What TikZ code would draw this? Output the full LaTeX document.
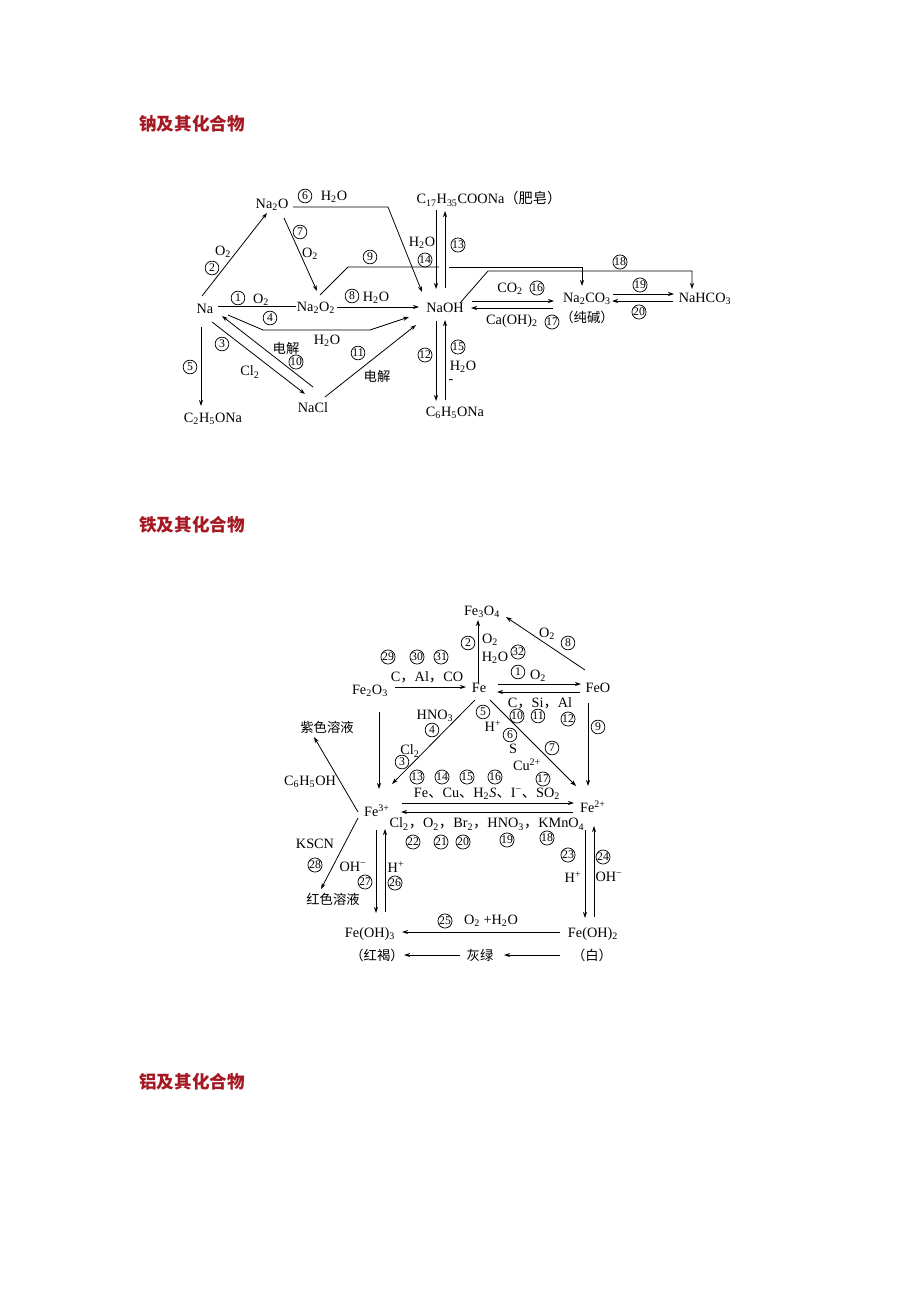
\documentclass[tikz,border=0pt]{standalone}
\usepackage{fontspec}
\setmainfont{Liberation Serif}
\newfontfamily\cjk{Noto Sans CJK SC}
\usetikzlibrary{arrows.meta}
\definecolor{headred}{RGB}{165,25,35}
\newcommand\sbs[1]{\textsubscript{#1}}
\newcommand\sps[1]{\textsuperscript{#1}}
\newcommand\zh[1]{{\cjk #1}}
\newcommand\cnum[3]{\node[num] (#1) at (#2) {#3};}
\tikzset{
 chem/.style={inner sep=0pt, font=\fontsize{10.7}{12}\selectfont},
 zhl/.style={inner sep=0pt, font=\cjk\fontsize{10}{11}\selectfont},
 head/.style={inner sep=0pt, anchor=west, font=\cjk\bfseries\fontsize{13.2}{15}\selectfont, text=headred},
 num/.style={draw, circle, inner sep=0pt, minimum size=10.3pt, line width=0.55pt, font=\fontsize{8.8}{9}\selectfont},
 rx/.style={line width=0.6pt, -{Stealth[length=4.5pt,width=3pt]}},
 ln/.style={line width=0.6pt},
}
\begin{document}
\begin{tikzpicture}[x=0.75pt,y=-0.75pt]
\fill[white] (0,0) rectangle (920,1302);
\useasboundingbox (0,0) rectangle (920,1302);

% headings
\node[head] (h1) at (139,124) {钠及其化合物};
\node[head] (h2) at (139,525) {铁及其化合物};
\node[head] (h3) at (139,1082) {铝及其化合物};

% ================= sodium =================
\node[chem] (Na) at (205,309) {Na};
\node[chem] (Na2O) at (272,205) {Na\sbs{2}O};
\node[chem] (Na2O2) at (316,308) {Na\sbs{2}O\sbs{2}};
\node[chem] (NaOH) at (445,308) {NaOH};
\node[chem] (NaCl) at (313,408) {NaCl};
\node[chem] (C2H5ONa) at (213,419) {C\sbs{2}H\sbs{5}ONa};
\node[chem] (soap) at (489,199) {C\sbs{17}H\sbs{35}COONa\zh{（肥皂）}};
\node[chem] (C6H5ONa) at (455,413) {C\sbs{6}H\sbs{5}ONa};
\node[chem] (Na2CO3) at (587,299) {Na\sbs{2}CO\sbs{3}};
\node[zhl] (chunjian) at (587,317) {（纯碱）};
\node[chem] (NaHCO3) at (705,299) {NaHCO\sbs{3}};

% labels
\cnum{n6}{305,196}{6}
\node[chem] (l6) at (334,197) {H\sbs{2}O};
\cnum{n7}{300,232}{7}
\node[chem] (l7) at (310,254) {O\sbs{2}};
\cnum{n2}{212,268}{2}
\node[chem] (l2) at (223,252) {O\sbs{2}};
\cnum{n9}{370,257}{9}
\cnum{n1}{238,298}{1}
\node[chem] (l1) at (261,300) {O\sbs{2}};
\cnum{n8}{352,296}{8}
\node[chem] (l8) at (376,298) {H\sbs{2}O};
\cnum{n4}{270,318}{4}
\node[chem] (l4) at (327,341) {H\sbs{2}O};
\cnum{n3}{222,344}{3}
\node[chem] (l3) at (250,372) {Cl\sbs{2}};
\node[zhl] (l10) at (286,348) {电解};
\cnum{n10}{296,362}{10}
\cnum{n11}{358,353}{11}
\node[zhl] (l11) at (377,376) {电解};
\cnum{n5}{190,367}{5}
\node[chem] (l14) at (422,243) {H\sbs{2}O};
\cnum{n14}{425,260}{14}
\cnum{n13}{458,245}{13}
\cnum{n12}{425,355}{12}
\cnum{n15}{458,347}{15}
\node[chem] (l15) at (463,367) {H\sbs{2}O};
\node[chem] (l15b) at (451,382) {-};
\node[chem] (l16) at (510,289) {CO\sbs{2}};
\cnum{n16}{537,288}{16}
\node[chem] (l17) at (512,321) {Ca(OH)\sbs{2}};
\cnum{n17}{552,322}{17}
\cnum{n19}{640,285}{19}
\cnum{n20}{639,312}{20}
\cnum{n18}{620,262}{18}

% connectors
\draw[rx] (202,296) coordinate (a1) -- (267,213) coordinate (a2);
\draw[rx] (293,207) coordinate (b1) -- (388,207) -- (422,292) coordinate (b2);
\draw[rx] (284,218) coordinate (c1) -- (317,291) coordinate (c2);
\draw[ln] (218,306) coordinate (d1) -- (296,306) coordinate (d2);
\draw[rx] (337,307) coordinate (e1) -- (419,307) coordinate (e2);
\draw[rx] (228,315) coordinate (f1) -- (263,330) -- (370,330) -- (409,317) coordinate (f2);
\draw[rx] (212,322) coordinate (g1) -- (305,394) coordinate (g2);
\draw[rx] (313,387) coordinate (h1) -- (222,316) coordinate (h2);
\draw[rx] (325,397) coordinate (i1) -- (416,325) coordinate (i2);
\draw[rx] (201,327) coordinate (j1) -- (201,406) coordinate (j2);
\draw[ln] (320,295) coordinate (k1) -- (348,267) -- (439,267);
\draw[rx] (449,267) -- (582,267) -- (582,286) coordinate (k2);
\draw[rx] (436,210) coordinate (m1) -- (436,289) coordinate (m2);
\draw[rx] (445,288) coordinate (m3) -- (445,211) coordinate (m4);
\draw[rx] (436,321) coordinate (o1) -- (436,401) coordinate (o2);
\draw[rx] (445,400) coordinate (o3) -- (445,320) coordinate (o4);
\draw[rx] (472,301) coordinate (p1) -- (554,301) coordinate (p2);
\draw[rx] (553,308) coordinate (p3) -- (471,308) coordinate (p4);
\draw[rx] (460,303) coordinate (q1) -- (488,271) -- (692,271) -- (692,289) coordinate (q2);
\draw[rx] (613,294) coordinate (r1) -- (674,294) coordinate (r2);
\draw[rx] (673,301) coordinate (r3) -- (612,301) coordinate (r4);

% ================= iron =================
\node[chem] (Fe3O4) at (482,612) {Fe\sbs{3}O\sbs{4}};
\node[chem] (Fe) at (479,688) {Fe};
\node[chem] (Fe2O3) at (370,691) {Fe\sbs{2}O\sbs{3}};
\node[chem] (FeO) at (598,688) {FeO};
\node[chem] (Fe3p) at (377,811) {Fe\sps{3+}};
\node[chem] (Fe2p) at (593,807) {Fe\sps{2+}};
\node[chem] (FeOH3) at (370,934) {Fe(OH)\sbs{3}};
\node[chem] (FeOH2) at (593,934) {Fe(OH)\sbs{2}};
\node[zhl] (zise) at (327,727) {紫色溶液};
\node[zhl] (hongse) at (333,899) {红色溶液};
\node[chem] (C6H5OH) at (310,782) {C\sbs{6}H\sbs{5}OH};
\node[chem] (KSCN) at (315,844) {KSCN};
\node[zhl] (honghe) at (377,955) {（红褐）};
\node[zhl] (huilv) at (480,955) {灰绿};
\node[zhl] (bai) at (592,955) {（白）};

% labels
\cnum{f2}{468,643}{2}
\node[chem] (fl2) at (490,640) {O\sbs{2}};
\node[chem] (fl32) at (495,658) {H\sbs{2}O};
\cnum{f32}{518,652}{32}
\node[chem] (fl8) at (547,634) {O\sbs{2}};
\cnum{f8}{568,643}{8}
\cnum{f29}{388,657}{29}
\cnum{f30}{417,657}{30}
\cnum{f31}{441,657}{31}
\node[chem] (flCAl) at (427,677) {C\zh{，}Al\zh{，}CO};
\cnum{f1}{518,672}{1}
\node[chem] (fl1) at (538,676) {O\sbs{2}};
\node[chem] (flCSi) at (540,703) {C\zh{，}Si\zh{，}Al};
\cnum{f10}{517,716}{10}
\cnum{f11}{538,716}{11}
\cnum{f12}{568,719}{12}
\cnum{f9}{598,727}{9}
\node[chem] (flHNO3) at (435,716) {HNO\sbs{3}};
\cnum{f4}{432,730}{4}
\node[chem] (flCl2) at (410,751) {Cl\sbs{2}};
\cnum{f3}{402,762}{3}
\cnum{f5}{483,712}{5}
\node[chem] (flH) at (493,726) {H\sps{+}};
\cnum{f6}{510,735}{6}
\node[chem] (flS) at (513,749) {S};
\cnum{f7}{552,748}{7}
\node[chem] (flCu) at (527,765) {Cu\sps{2+}};
\cnum{f17}{543,779}{17}
\cnum{f13}{417,777}{13}
\cnum{f14}{442,777}{14}
\cnum{f15}{467,777}{15}
\cnum{f16}{495,777}{16}
\node[chem] (flred) at (487,794) {Fe\zh{、}Cu\zh{、}H\sbs{2}\textit{S}\zh{、}I\sps{−}\zh{、}SO\sbs{2}};
\node[chem] (flox) at (487,824) {Cl\sbs{2}\zh{，}O\sbs{2}\zh{，}Br\sbs{2}\zh{，}HNO\sbs{3}\zh{，}KMnO\sbs{4}};
\cnum{f22}{413,842}{22}
\cnum{f21}{441,842}{21}
\cnum{f20}{463,842}{20}
\cnum{f19}{507,840}{19}
\cnum{f18}{547,838}{18}
\cnum{f28}{315,865}{28}
\node[chem] (flOH27) at (353,867) {OH\sps{−}};
\cnum{f27}{365,882}{27}
\node[chem] (flH26) at (396,867) {H\sps{+}};
\cnum{f26}{395,883}{26}
\cnum{f23}{568,855}{23}
\node[chem] (flH23) at (573,877) {H\sps{+}};
\cnum{f24}{603,857}{24}
\node[chem] (flOH24) at (609,877) {OH\sps{−}};
\cnum{f25}{445,921}{25}
\node[chem] (fl25) at (491,921) {O\sbs{2} +H\sbs{2}O};

% connectors
\draw[rx] (478,683) coordinate (s1) -- (478,620) coordinate (s2);
\draw[rx] (585,670) coordinate (t1) -- (506,617) coordinate (t2);
\draw[rx] (395,687) coordinate (u1) -- (466,687) coordinate (u2);
\draw[rx] (498,684) coordinate (v1) -- (581,684) coordinate (v2);
\draw[rx] (580,692) coordinate (v3) -- (497,692) coordinate (v4);
\draw[rx] (588,703) coordinate (w1) -- (588,786) coordinate (w2);
\draw[rx] (379,712) coordinate (x1) -- (379,789) coordinate (x2);
\draw[rx] (475,700) coordinate (y1) -- (392,784) coordinate (y2);
\draw[rx] (490,700) coordinate (z1) -- (576,786) coordinate (z2);
\draw[rx] (358,812) coordinate (aa1) -- (314,737) coordinate (aa2);
\draw[rx] (358,818) coordinate (ab1) -- (321,889) coordinate (ab2);
\draw[rx] (402,803) coordinate (ac1) -- (574,803) coordinate (ac2);
\draw[rx] (573,812) coordinate (ac3) -- (401,812) coordinate (ac4);
\draw[rx] (376,830) coordinate (ad1) -- (376,913) coordinate (ad2);
\draw[rx] (385,912) coordinate (ad3) -- (385,829) coordinate (ad4);
\draw[rx] (585,830) coordinate (ae1) -- (585,918) coordinate (ae2);
\draw[rx] (594,917) coordinate (ae3) -- (594,826) coordinate (ae4);
\draw[rx] (560,932) coordinate (af1) -- (402,932) coordinate (af2);
\draw[rx] (460,955) coordinate (ag1) -- (404,955) coordinate (ag2);
\draw[rx] (560,955) coordinate (ah1) -- (504,955) coordinate (ah2);
\end{tikzpicture}
\end{document}
